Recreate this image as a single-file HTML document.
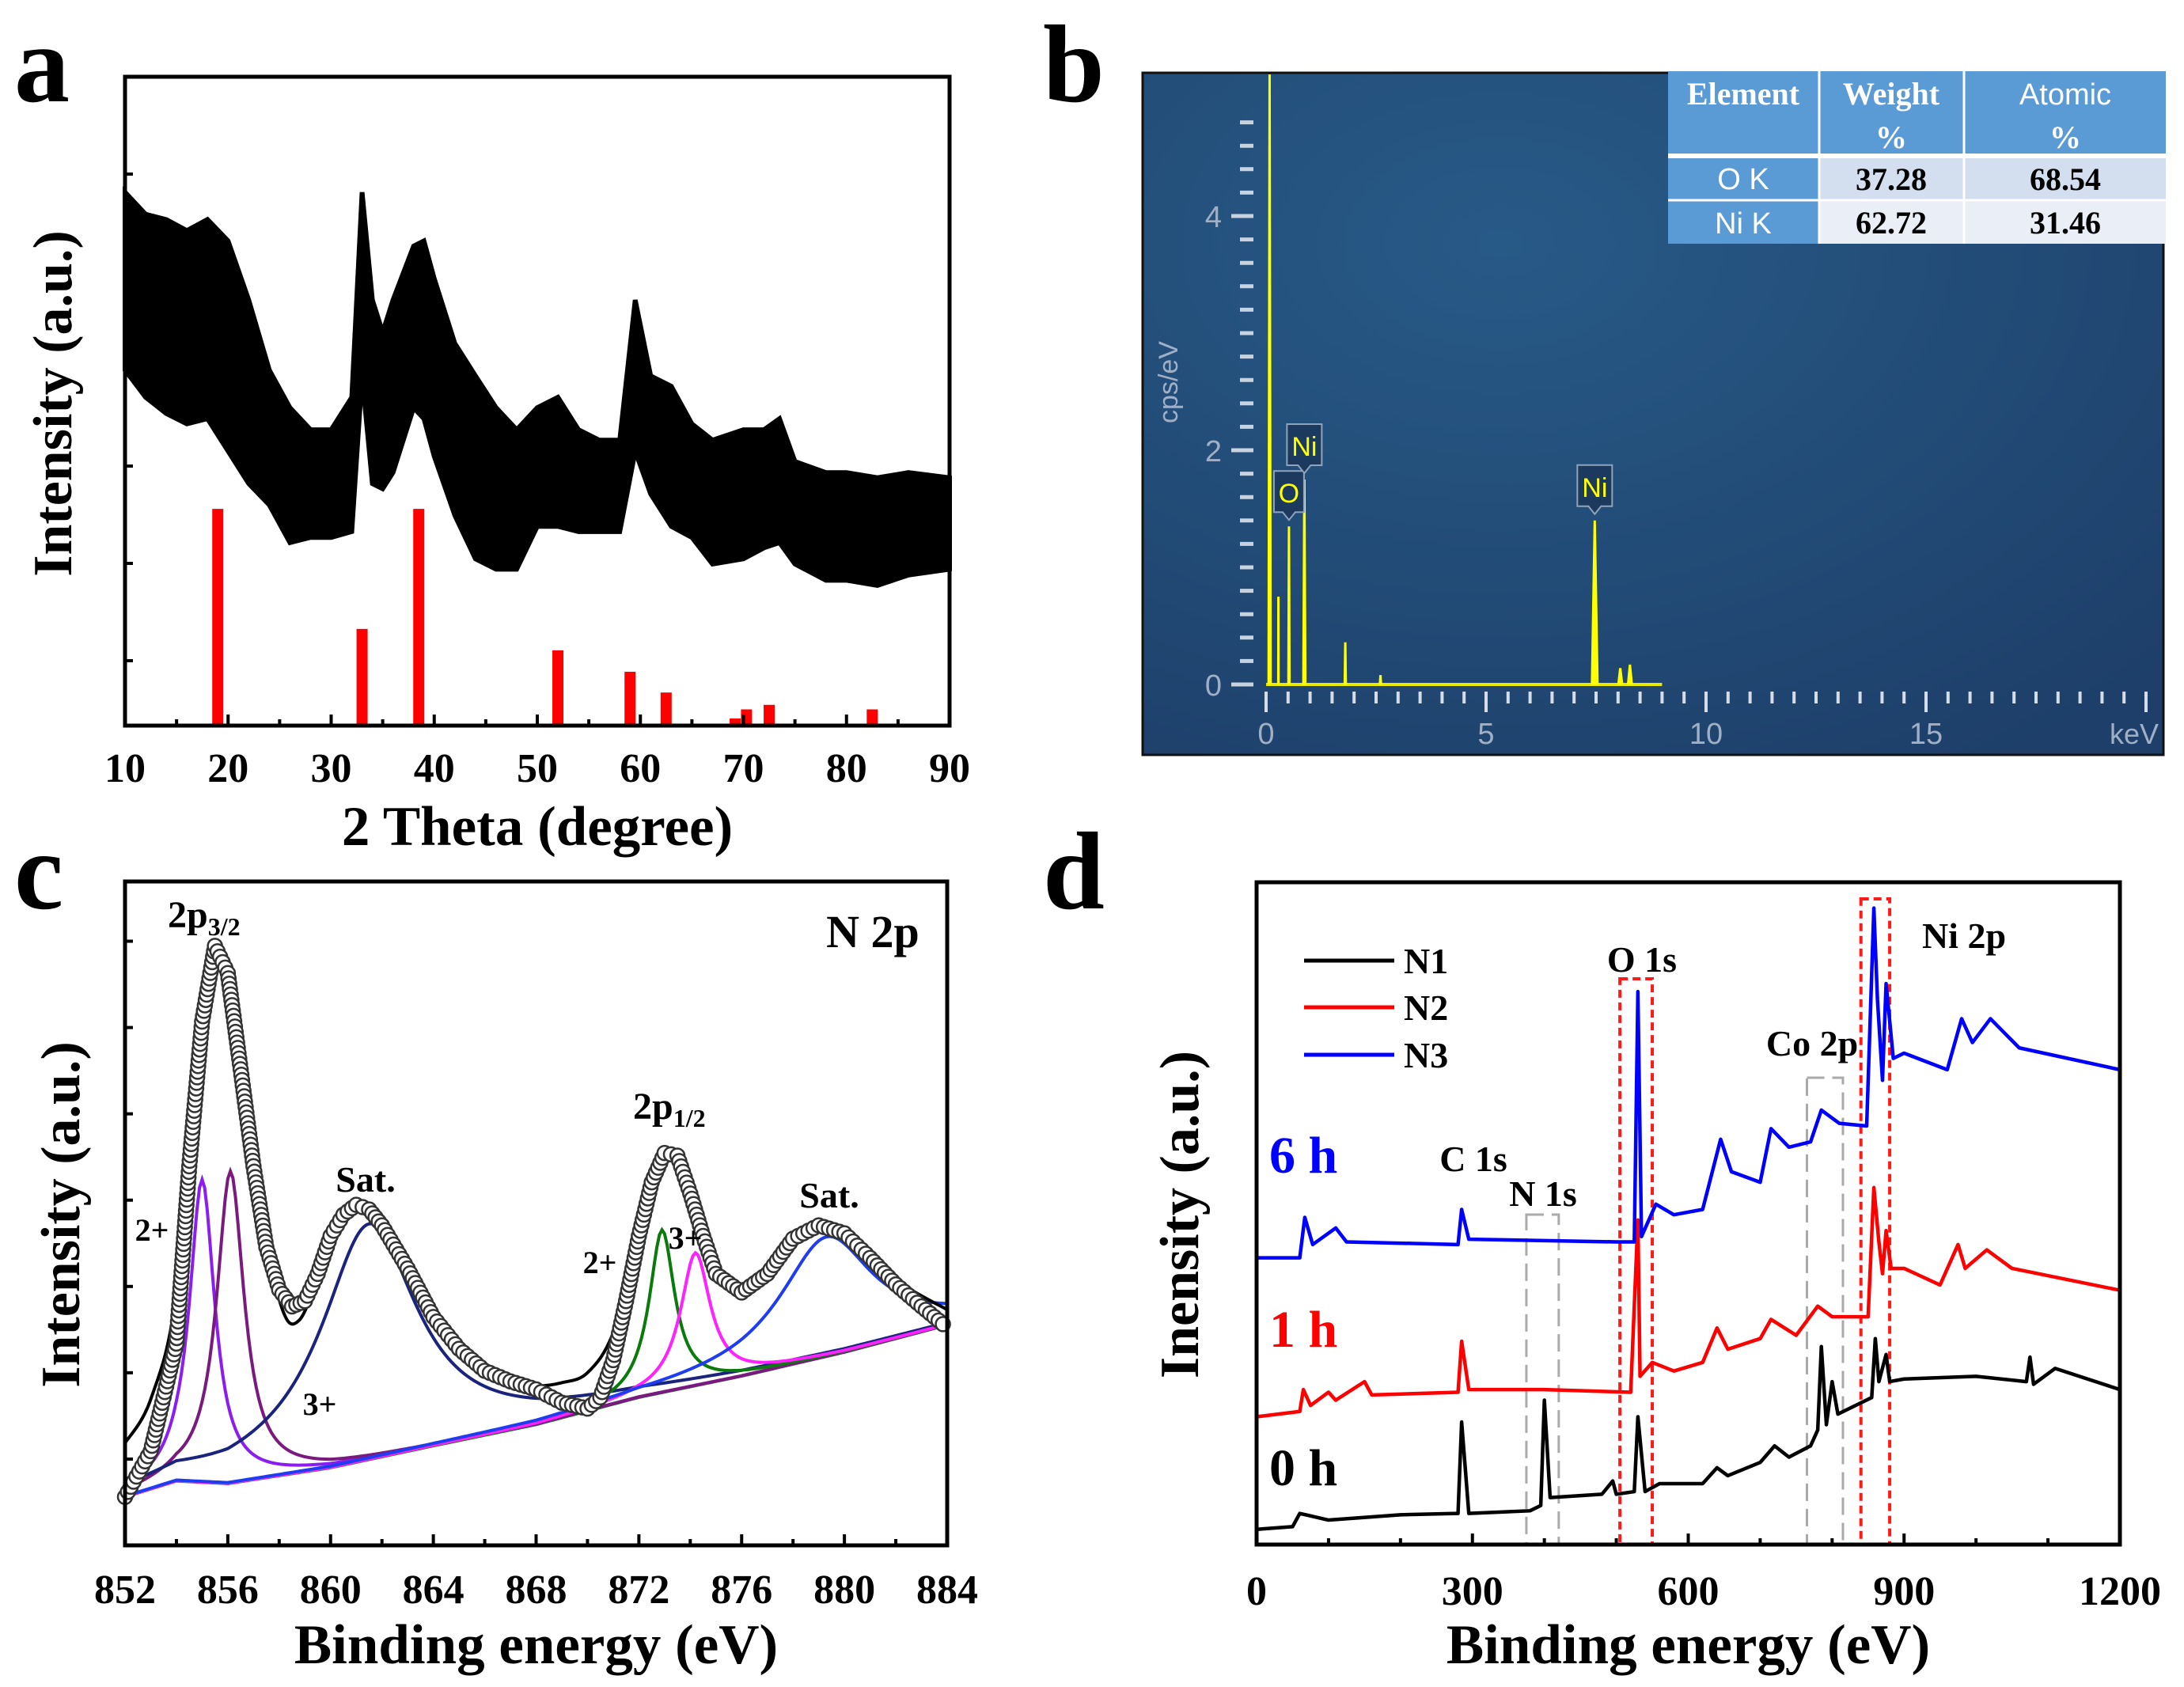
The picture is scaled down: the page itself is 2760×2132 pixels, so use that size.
<!DOCTYPE html>
<html><head><meta charset="utf-8"><style>
html,body{margin:0;padding:0;background:#fff;}
svg{display:block;font-family:"Liberation Serif",serif;}
</style></head><body>
<svg id="fig" width="2760" height="2132" viewBox="0 0 2760 2132" xmlns="http://www.w3.org/2000/svg">
<defs>
<radialGradient id="edsbg" cx="0.35" cy="0.25" r="0.9">
<stop offset="0" stop-color="#285a87"/><stop offset="1" stop-color="#1d3f69"/>
</radialGradient>
</defs>
<rect width="2760" height="2132" fill="#fff"/>
<g id="pa"></g>
<g id="pb"></g>
<g id="pc"></g>
<g id="pd"></g>
</svg>
<script>
// ---------- Panel a data ----------
const xrdTheta = [10,12,14,16,18,20,22,24,26,28,30,32,33,34,35,36,38,39,40,42,44,46,48,50,52,54,56,58,59.5,61,63,65,67,70,72,73.5,75,78,80,83,86,90];
const xrdUpper = [82.2,78.8,78.0,76.3,78.0,74.7,65.6,54.8,49.0,45.6,45.6,50.6,82.2,65.6,60.6,65.6,73.9,74.7,68.9,58.9,53.9,49.0,45.6,49.0,50.6,45.6,44.0,44.0,65.6,53.9,52.3,46.5,44.0,45.6,45.6,47.3,40.7,39.0,39.0,38.2,39.0,38.2];
const xrdLower = [54.8,50.6,48.1,46.5,47.3,42.3,37.3,34.0,28.2,29.0,29.0,29.9,53.9,37.3,36.5,39.0,49.0,47.3,41.5,32.4,25.7,24.1,24.1,30.7,30.7,29.9,29.9,29.9,42.3,35.7,30.7,29.0,24.9,25.7,27.4,28.2,24.9,22.4,22.4,21.6,23.2,24.1];
const refTheta = [19,33,38.5,52,59,62.5,69.2,70.3,72.5,82.5];
const refInt = [33.4,14.9,33.4,11.6,8.3,5.1,1.1,2.5,3.2,2.5];
const xrdTicks = [10,20,30,40,50,60,70,80,90];

// ---------- Panel b data ----------
const edsE = [0.08,0.28,0.52,0.87,1.8,2.6,7.47,8.05,8.27];
const edsC = [5.3,0.75,1.35,1.75,0.36,0.08,1.4,0.14,0.17];
const edsW = [0.05,0.03,0.04,0.05,0.04,0.04,0.09,0.07,0.07];
const edsXTicks = [0,5,10,15];
const edsYTicks = [0,2,4];
const edsLabels = [["O",0.52,1.35],["Ni",0.87,1.75],["Ni",7.47,1.4]];

// ---------- Panel c data ----------
const xpsE = [852,853,854,854.5,855,855.5,856,856.5,857,857.5,858,858.5,859,859.5,860,860.5,861,861.5,862,863,864,865,866,867,868,869,870,870.5,871,871.5,872,872.5,873,873.5,874,874.5,875,876,877,878,879,880,881,882,883,884];
const xpsI = [7.3,14.2,30.4,57.1,78.9,90.3,86.2,71.7,57.1,44.9,38.5,36.0,36.8,40.9,46.6,49.8,51.3,50.6,48.2,41.7,34.4,29.6,26.3,24.7,23.5,21.5,20.6,22.3,27.9,36.8,46.6,54.7,59.1,58.7,53.0,46.6,40.9,38.1,40.9,46.2,48.2,47.0,43.3,39.3,36.0,32.8];
const fitE = [852,853,854,855,855.5,856,857,858,858.8,860,861.3,863,865,867,868,869,870,871,872,873,874,875,876,877,878,879,880,882,884];
const fitI = [15.4,22.0,38.0,80.0,90.3,86.0,57.0,37.0,34.0,45.0,51.0,41.7,29.0,24.5,24.0,24.5,26.0,32.0,46.0,58.5,54.0,42.0,38.5,41.0,46.0,48.0,47.0,40.0,35.5];
const baseE = [852,854,856,860,864,868,872,876,880,884];
const baseI = [7.3,9.7,9.3,11.7,15.0,18.2,22.3,25.5,29.1,33.2];
const compCenter = [855.0,856.1,861.5,872.9,874.2,879.3];
const compHeight = [45.6,47.0,35.5,24.5,20.0,18.0];
const compWidth = [0.6,0.65,2.3,0.6,0.7,2.2];
const compColor = ["#8b1cf2","#7b1a7e","#1a237e","#0a7a0a","#ff22ff","#1f3df0"];
const xpsTicks = [852,856,860,864,868,872,876,880,884];

// ---------- Panel d data ----------
const n1E = [0,50,60,100,200,280,285,295,380,395,400,408,480,495,500,525,530,540,560,620,640,655,700,720,740,770,780,785,792,800,808,840,855,860,865,875,880,900,1000,1070,1075,1080,1110,1200];
const n1I = [2.3,2.7,4.7,3.7,4.5,4.7,18.5,4.7,5.1,5.9,21.8,7.1,7.6,9.6,7.6,8.0,19.3,8.0,9.2,9.2,11.6,10.4,12.4,14.9,13.2,14.9,17.3,29.9,18.1,24.6,19.7,21.4,22.2,31.1,24.6,28.7,24.6,25.0,25.4,24.6,28.3,24.2,26.6,23.4];
const n2E = [0,60,65,75,100,110,150,160,280,285,295,400,520,530,533,550,580,620,640,655,700,715,750,780,800,850,858,865,870,875,882,900,950,975,985,1015,1050,1200];
const n2I = [19.3,20.1,23.4,21.0,23.0,21.8,24.6,22.6,23.0,30.7,23.4,23.4,23.0,49.0,25.4,27.5,26.2,27.5,32.7,29.5,31.1,34.0,31.6,36.0,34.4,34.4,53.9,45.7,40.9,47.4,41.7,41.7,39.2,45.3,41.7,44.5,41.7,38.4];
const n3E = [0,60,67,78,110,125,280,285,295,500,525,530,535,555,580,620,645,660,700,715,740,770,785,810,848,858,863,870,875,885,900,960,980,995,1020,1060,1200];
const n3I = [43.3,43.3,49.4,45.3,47.8,45.7,45.3,50.6,46.1,45.7,45.7,83.5,46.5,51.4,49.8,50.6,61.2,56.3,54.7,62.8,60.0,60.8,65.6,63.6,63.2,96.1,82.3,70.1,84.7,73.4,74.2,71.7,79.4,75.8,79.4,75.0,71.7];
const surveyTicks = [0,300,600,900,1200];
const redBoxes = [[505,550],[840,880]];
const grayBoxes = [[375,420],[765,815]];
const boxTops = [[1237,1136],[1535,1362]];

const NS="http://www.w3.org/2000/svg";
function mk(parent,tag,attrs,text){const e=document.createElementNS(NS,tag);for(const k in attrs)e.setAttribute(k,attrs[k]);if(text!==undefined)e.textContent=text;parent.appendChild(e);return e;}
function smooth(pts){let d='M'+pts[0][0]+','+pts[0][1];for(let i=0;i<pts.length-1;i++){const p0=pts[Math.max(0,i-1)],p1=pts[i],p2=pts[i+1],p3=pts[Math.min(pts.length-1,i+2)];
 const c1=[p1[0]+(p2[0]-p0[0])/6,p1[1]+(p2[1]-p0[1])/6],c2=[p2[0]-(p3[0]-p1[0])/6,p2[1]-(p3[1]-p1[1])/6];
 d+=`C${c1[0]},${c1[1]} ${c2[0]},${c2[1]} ${p2[0]},${p2[1]}`;}return d;}
const TICK=52, TITLE=71, YTITLE=70;

// ================= Panel a =================
(function(){
const g=document.getElementById('pa');
const L=158,R=1200,T=97,B=917;
const sx=v=>L+(v-10)/80*(R-L), sy=v=>B-v/100*(B-T);
let t=mk(g,'text',{x:18,y:128,'font-size':140,'font-weight':'bold'},'a');


let d='M'+xrdTheta.map((x,i)=>sx(x)+','+sy(xrdUpper[i])).join('L');
for(let i=xrdTheta.length-1;i>=0;i--)d+='L'+sx(xrdTheta[i])+','+sy(xrdLower[i]);
let p=mk(g,'path',{d:d+'Z',fill:'#000',stroke:'#000','stroke-width':6,'stroke-linejoin':'miter'});


refTheta.forEach((x,i)=>{
 let r=mk(g,'rect',{x:sx(x)-7,y:sy(refInt[i]),width:14,height:B-sy(refInt[i]),fill:'#ff0000'});
 
 
});
let f=mk(g,'rect',{x:L,y:T,width:R-L,height:B-T,fill:'none',stroke:'#000','stroke-width':5});


for(let v=10;v<=90;v+=5){mk(g,'line',{x1:sx(v),y1:B,x2:sx(v),y2:B-(v%10?8:14),stroke:'#000','stroke-width':4});}
[0.1,0.25,0.4,0.55,0.7,0.85].forEach(fr=>mk(g,'line',{x1:L,y1:B-fr*(B-T),x2:L+10,y2:B-fr*(B-T),stroke:'#000','stroke-width':4}));
xrdTicks.forEach(v=>{let tt=mk(g,'text',{x:sx(v),y:988,'font-size':TICK,'font-weight':'bold','text-anchor':'middle'},String(v));
 
 });
t=mk(g,'text',{x:(L+R)/2,y:1068,'font-size':TITLE,'font-weight':'bold','text-anchor':'middle'},'2 Theta (degree)');


t=mk(g,'text',{x:0,y:0,'font-size':YTITLE,'font-weight':'bold','text-anchor':'middle',transform:'translate(90,510) rotate(-90)'},'Intensity (a.u.)');


})();

// ================= Panel b =================
(function(){
const g=document.getElementById('pb');
let t=mk(g,'text',{x:1318,y:128,'font-size':140,'font-weight':'bold'},'b');


let bg=mk(g,'rect',{x:1444,y:92,width:1290,height:862,fill:'url(#edsbg)',stroke:'#111','stroke-width':3});


const X0=1600,PX=55.6,Y0=865,PY=148;
const sx=v=>X0+v*PX, sy=v=>Y0-v*PY;
for(let v=0;v<=4.81;v+=0.2){const maj=Math.abs(v-Math.round(v/2)*2)<0.01;mk(g,'line',{x1:maj?1556:1567,y1:sy(v),x2:1584,y2:sy(v),stroke:'#c9d3df','stroke-width':5});}
edsYTicks.forEach(v=>{let tt=mk(g,'text',{x:1544,y:sy(v)+14,'font-size':38,fill:'#9fb0c6','text-anchor':'end','font-family':'Liberation Sans, sans-serif'},String(v));
 
 });
t=mk(g,'text',{x:0,y:0,'font-size':34,fill:'#9fb0c6','text-anchor':'middle','font-family':'Liberation Sans, sans-serif',transform:'translate(1488,483) rotate(-90)'},'cps/eV');


for(let v=0;v<=20.01;v+=0.5){const maj=Math.abs(v%5)<0.01;mk(g,'line',{x1:sx(v),y1:874,x2:sx(v),y2:maj?900:889,stroke:'#d5dde8','stroke-width':4});}
edsXTicks.forEach(v=>{let tt=mk(g,'text',{x:sx(v),y:940,'font-size':38,fill:'#9fb0c6','text-anchor':'middle','font-family':'Liberation Sans, sans-serif'},String(v));
 
 });
t=mk(g,'text',{x:2728,y:940,'font-size':36,fill:'#9fb0c6','text-anchor':'end','font-family':'Liberation Sans, sans-serif'},'keV');


mk(g,'line',{x1:sx(0),y1:Y0,x2:sx(9),y2:Y0,stroke:'#e8e800','stroke-width':4});
edsE.forEach((e,i)=>{
 const top=Math.max(sy(edsC[i]),94);
 let p=mk(g,'path',{d:`M${sx(e-edsW[i])},${Y0} L${sx(e)-1.5},${top} L${sx(e)+1.5},${top} L${sx(e+edsW[i])},${Y0}Z`,fill:'#ffff00'});
 
 
});
edsLabels.forEach(l=>{
 const cx=sx(l[1]), by=sy(l[2])-8;
 const w=l[0]==='O'?38:44, h=52;
 let lg=mk(g,'g',{});
 
 
 mk(lg,'path',{d:`M${cx-w/2},${by-h-10} h${w} v${h} h${-w/2+8} l-8,10 l-8,-10 h${-w/2+8} Z`,fill:'#1b3a5e',stroke:'#8fa3bb','stroke-width':2});
 mk(lg,'text',{x:cx,y:by-22,'font-size':34,fill:'#ffff00','text-anchor':'middle','font-family':'Liberation Sans, sans-serif'},l[0]);
});
const tb=mk(g,'g',{});


mk(tb,'rect',{x:2108,y:90,width:629,height:107,fill:'#5b9bd5'});
mk(tb,'rect',{x:2108,y:197,width:191,height:111,fill:'#5b9bd5'});
mk(tb,'rect',{x:2299,y:197,width:438,height:56,fill:'#d3deef'});
mk(tb,'rect',{x:2299,y:253,width:438,height:55,fill:'#e9eef7'});
[2299,2482].forEach(x=>mk(tb,'line',{x1:x,y1:90,x2:x,y2:308,stroke:'#fff','stroke-width':3}));
mk(tb,'line',{x1:2108,y1:197,x2:2737,y2:197,stroke:'#fff','stroke-width':6});
mk(tb,'line',{x1:2108,y1:253,x2:2737,y2:253,stroke:'#fff','stroke-width':3});
mk(tb,'text',{x:2203,y:132,'font-size':40,'font-weight':'bold',fill:'#fff','text-anchor':'middle'},'Element');
mk(tb,'text',{x:2390,y:132,'font-size':40,'font-weight':'bold',fill:'#fff','text-anchor':'middle'},'Weight');
mk(tb,'text',{x:2390,y:187,'font-size':40,'font-weight':'bold',fill:'#fff','text-anchor':'middle'},'%');
mk(tb,'text',{x:2610,y:132,'font-size':38,fill:'#fff','text-anchor':'middle','font-family':'Liberation Sans, sans-serif'},'Atomic');
mk(tb,'text',{x:2610,y:187,'font-size':40,'font-weight':'bold',fill:'#fff','text-anchor':'middle'},'%');
mk(tb,'text',{x:2203,y:239,'font-size':38,fill:'#fff','text-anchor':'middle','font-family':'Liberation Sans, sans-serif'},'O K');
mk(tb,'text',{x:2203,y:295,'font-size':38,fill:'#fff','text-anchor':'middle','font-family':'Liberation Sans, sans-serif'},'Ni K');
mk(tb,'text',{x:2390,y:240,'font-size':40,'font-weight':'bold','text-anchor':'middle'},'37.28');
mk(tb,'text',{x:2610,y:240,'font-size':40,'font-weight':'bold','text-anchor':'middle'},'68.54');
mk(tb,'text',{x:2390,y:295,'font-size':40,'font-weight':'bold','text-anchor':'middle'},'62.72');
mk(tb,'text',{x:2610,y:295,'font-size':40,'font-weight':'bold','text-anchor':'middle'},'31.46');
})();

// ================= Panel c =================
(function(){
const g=document.getElementById('pc');
const L=158,R=1197,T=1114,B=1953;
const sx=v=>L+(v-852)/32*(R-L), sy=v=>B-v/100*(B-T);
let t=mk(g,'text',{x:18,y:1148,'font-size':140,'font-weight':'bold'},'c');


function base(x){for(let i=0;i<baseE.length-1;i++){if(x<=baseE[i+1]){const f=(x-baseE[i])/(baseE[i+1]-baseE[i]);return baseI[i]+f*(baseI[i+1]-baseI[i]);}}return baseI[baseI.length-1];}
function lor(x,i){const u=(x-compCenter[i])/compWidth[i];return compHeight[i]/(1+u*u);}
const xs=[];for(let x=852;x<=884.001;x+=0.1)xs.push(x);
let bp=mk(g,'path',{d:'M'+xs.map(x=>sx(x)+','+sy(base(x))).join('L'),fill:'none',stroke:'#0a7a0a','stroke-width':4});


compCenter.forEach((c,i)=>{
 let p=mk(g,'path',{d:'M'+xs.map(x=>sx(x)+','+sy(base(x)+lor(x,i))).join('L'),fill:'none',stroke:compColor[i],'stroke-width':4});
 
 
});
let fp=mk(g,'path',{d:smooth(fitE.map((x,i)=>[sx(x),sy(fitI[i])])),fill:'none',stroke:'#000','stroke-width':4});


for(let i=0;i<xpsE.length-1;i++){
 const x0=sx(xpsE[i]),y0=sy(xpsI[i]),x1=sx(xpsE[i+1]),y1=sy(xpsI[i+1]);
 const len=Math.hypot(x1-x0,y1-y0),n=Math.max(1,Math.round(len/7));
 for(let k=0;k<n;k++){const f=k/n;
  let c=mk(g,'circle',{cx:x0+f*(x1-x0),cy:y0+f*(y1-y0),r:9,fill:'#fff',stroke:'#333','stroke-width':2.5});
  
  }
}
let f=mk(g,'rect',{x:L,y:T,width:R-L,height:B-T,fill:'none',stroke:'#000','stroke-width':5});


for(let v=852;v<=884;v+=2)mk(g,'line',{x1:sx(v),y1:B,x2:sx(v),y2:B-(v%4?8:14),stroke:'#000','stroke-width':4});
[0.13,0.26,0.39,0.52,0.65,0.78,0.91].forEach(fr=>mk(g,'line',{x1:L,y1:B-fr*(B-T),x2:L+10,y2:B-fr*(B-T),stroke:'#000','stroke-width':4}));
xpsTicks.forEach(v=>{let tt=mk(g,'text',{x:sx(v),y:2026,'font-size':TICK,'font-weight':'bold','text-anchor':'middle'},String(v));
 
 });
t=mk(g,'text',{x:(L+R)/2,y:2102,'font-size':TITLE,'font-weight':'bold','text-anchor':'middle'},'Binding energy (eV)');


t=mk(g,'text',{x:0,y:0,'font-size':YTITLE,'font-weight':'bold','text-anchor':'middle',transform:'translate(100,1535) rotate(-90)'},'Intensity (a.u.)');


const ann=[["N 2p",1103,1197,58],["Sat.",462,1506,46],["2+",192,1568,40],["3+",404,1788,40],["2+",758,1609,40],["3+",866,1578,40],["Sat.",1048,1526,46]];
ann.forEach(a=>{let tt=mk(g,'text',{x:a[1],y:a[2],'font-size':a[3],'font-weight':'bold','text-anchor':'middle'},a[0]);
 
 });
t=mk(g,'text',{x:212,y:1172,'font-size':48,'font-weight':'bold'});


t.innerHTML='2p<tspan font-size="32" dy="10">3/2</tspan>';
t=mk(g,'text',{x:800,y:1414,'font-size':48,'font-weight':'bold'});


t.innerHTML='2p<tspan font-size="32" dy="10">1/2</tspan>';
})();

// ================= Panel d =================
(function(){
const g=document.getElementById('pd');
const L=1588,R=2679,T=1115,B=1952;
const sx=v=>L+v/1200*(R-L), sy=v=>B-v/100*(B-T);
let t=mk(g,'text',{x:1318,y:1148,'font-size':140,'font-weight':'bold'},'d');


redBoxes.forEach((b,i)=>{let r=mk(g,'rect',{x:sx(b[0]),y:boxTops[0][i],width:sx(b[1])-sx(b[0]),height:B-boxTops[0][i],fill:'none',stroke:'#ff1a1a','stroke-width':4,'stroke-dasharray':'10,6'});
 
 });
grayBoxes.forEach((b,i)=>{let r=mk(g,'rect',{x:sx(b[0]),y:boxTops[1][i],width:sx(b[1])-sx(b[0]),height:B-boxTops[1][i],fill:'none',stroke:'#aaaaaa','stroke-width':3,'stroke-dasharray':'22,10'});
 
 });
[[n1E,n1I,'#000','n1-spectrum'],[n2E,n2I,'#ff0000','n2-spectrum'],[n3E,n3I,'#0000ff','n3-spectrum']].forEach(s=>{
 let p=mk(g,'path',{d:'M'+s[0].map((x,i)=>sx(x)+','+sy(s[1][i])).join('L'),fill:'none',stroke:s[2],'stroke-width':4.5,'stroke-linejoin':'round'});
 
 
});
let f=mk(g,'rect',{x:L,y:T,width:R-L,height:B-T,fill:'none',stroke:'#000','stroke-width':5});


for(let v=0;v<=1200;v+=100)mk(g,'line',{x1:sx(v),y1:B,x2:sx(v),y2:B-(v%300?8:14),stroke:'#000','stroke-width':4});
surveyTicks.forEach(v=>{let tt=mk(g,'text',{x:sx(v),y:2028,'font-size':TICK,'font-weight':'bold','text-anchor':'middle'},String(v));
 
 });
t=mk(g,'text',{x:(L+R)/2,y:2102,'font-size':TITLE,'font-weight':'bold','text-anchor':'middle'},'Binding energy (eV)');


t=mk(g,'text',{x:0,y:0,'font-size':YTITLE,'font-weight':'bold','text-anchor':'middle',transform:'translate(1514,1535) rotate(-90)'},'Inensity (a.u.)');


[['N1','#000',1214],['N2','#ff0000',1273],['N3','#0000ff',1333]].forEach(l=>{
 let lg=mk(g,'g',{});
 
 
 mk(lg,'line',{x1:1648,y1:l[2],x2:1762,y2:l[2],stroke:l[1],'stroke-width':5});
 mk(lg,'text',{x:1774,y:l[2]+16,'font-size':46,'font-weight':'bold'},l[0]);
});
[['6 h','#0000ff',1482],['1 h','#ff0000',1702],['0 h','#000',1877]].forEach(l=>{
 let tt=mk(g,'text',{x:1604,y:l[2],'font-size':66,'font-weight':'bold',fill:l[1]},l[0]);
 
 });
[['C 1s',1862,1480],['N 1s',1950,1524],['O 1s',2075,1228],['Co 2p',2290,1334],['Ni 2p',2482,1198]].forEach(a=>{
 let tt=mk(g,'text',{x:a[1],y:a[2],'font-size':46,'font-weight':'bold','text-anchor':'middle'},a[0]);
 
 });
})();
</script>
</body></html>
